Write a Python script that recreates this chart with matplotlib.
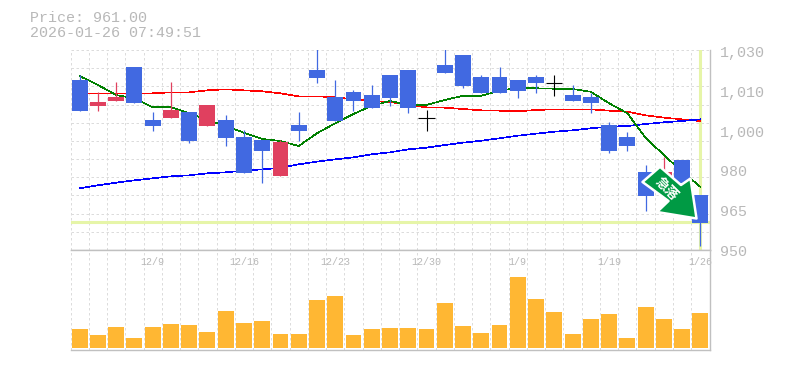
import matplotlib
matplotlib.use("Agg")
import matplotlib.pyplot as plt
from matplotlib.patches import Polygon
from matplotlib.transforms import Affine2D, blended_transform_factory

# ---- data ----
opens = [1018, 1007.6, 1009.6, 1023.2, 1002, 1002.8, 1005.2, 999.6, 1002, 995.2, 994, 979.6,
         1000, 1022, 1011.2, 1013.2, 1012, 1020, 1022, 1003, 1024, 1028, 1019.2, 1019.2,
         1018, 1019.2, 1017, 1012, 1011.2, 1000, 995.2, 981.2, 975.3, 986, 972]
closes = [1005.6, 1009.2, 1011.2, 1008.8, 999.6, 1006, 993.6, 1008, 994.8, 980.8, 989.6, 993.2,
          997.6, 1018.8, 1001.6, 1009.6, 1006.8, 1010.8, 1006.8, 1003, 1020.8, 1015.6, 1012.8, 1012.8,
          1013.6, 1016.8, 1017, 1009.6, 1008.8, 989.6, 991.6, 971.6, 981.3, 976.7, 961]
highs = [1020, 1013.2, 1017.2, 1023.2, 1005.2, 1017.2, 1005.2, 1008, 1004, 998, 994, 994,
         1005.2, 1032, 1018, 1014, 1016, 1020, 1022, 1006, 1032, 1028, 1020, 1023.2,
         1018, 1020, 1020, 1016, 1012.8, 1001.2, 997.2, 984, 987.2, 986, 972]
lows = [1005.6, 1005.6, 1009.6, 1008.8, 997.6, 1002.8, 992.8, 999.6, 991.6, 980.8, 976.8, 979.6,
        993.6, 1016.8, 1001.6, 1005.6, 1006.8, 1007.6, 1004.8, 997.6, 1020.8, 1014.8, 1012.8, 1012.8,
        1010.8, 1012.8, 1011.6, 1009.6, 1004.8, 988.8, 989.6, 965.6, 975.3, 976.7, 951.6]
ma_green = [1019.6, 1016, 1012, 1010.7, 1007.1, 1007.1, 1004.7, 1002, 999.6, 996.9, 994.4, 993.6,
            991.6, 996.7, 1000.7, 1004.4, 1007.7, 1009.6, 1008, 1008, 1010, 1011.7, 1011.7, 1013.7,
            1014.9, 1014.7, 1014.5, 1014.4, 1013.3, 1008.7, 1004.7, 994.9, 988, 981.3, 975.3]
ma_red = [1012.67, 1012.67, 1012.67, 1012.67, 1012.67, 1013.07, 1013.07, 1013.87, 1014.27, 1013.87,
          1013.47, 1012.67, 1011.47, 1011.47, 1011.07, 1010.27, 1009.6, 1009.2, 1008, 1007.07, 1006.93,
          1006.4, 1005.87, 1005.73, 1005.47, 1006, 1006.27, 1006.27, 1006.27, 1005.73, 1005.33,
          1003.87, 1002.93, 1002.27, 1001.6]
ma_blue = [974.67, 975.87, 976.93, 977.87, 978.67, 979.47, 979.87, 980.67, 981.07, 981.73, 982.27,
           982.8, 984.27, 985.33, 986.27, 987.07, 988.27, 989.07, 990.27, 990.93, 992, 992.93, 993.73,
           994.67, 995.73, 996.53, 997.33, 997.87, 998.67, 999.33, 999.6, 1000.4, 1001.07, 1001.6, 1002.27]
volumes = [56, 38, 62, 29, 62, 71, 68, 47, 110, 74, 80, 41, 41, 143, 155, 38, 56, 59, 59, 56, 134,
           65, 44, 68, 212, 146, 107, 41, 86, 101, 29, 122, 86, 56, 104]
date_idx = [4, 9, 14, 19, 24, 29, 34]
date_labels = ["12/9", "12/16", "12/23", "12/30", "1/9", "1/19", "1/26"]
price_ticks = [1030, 1014, 998, 982, 966, 950]
price_labels = ["1,030", "1,010", "1,000", "980", "965", "950"]
last_price = 961

BLUE, RED, ORANGE, HL = "#4169e1", "#e0405f", "#ffb733", "#e6f5a8"
GRID, AXC, TXT = "#dcdcdc", "#c0c0c0", "#b8b8b8"
MONO = "Liberation Mono"
W, H = 785, 370
n = len(closes)
idx = list(range(n))

fig = plt.figure(figsize=(W / 100, H / 100), dpi=100, facecolor="white")
px = Affine2D().scale(1 / W, -1 / H).translate(0, 1) + fig.transFigure
L, R = 70.5, 709.5
ax = fig.add_axes([L / W, (H - 250) / H, (R - L) / W, 200 / H])
av = fig.add_axes([L / W, (H - 350) / H, (R - L) / W, 100 / H])

for a in (ax, av):
    a.set_xlim(-0.5, n - 0.5)
    a.set_xticks([i - 0.5 for i in range(n + 1)])
    a.tick_params(length=0, labelbottom=False, labelleft=False)
    a.set_axisbelow(True)
    a.grid(axis="x", color=GRID, lw=0.72, ls=(0, (2.5, 2.5)))
    for s in a.spines.values():
        s.set_color(AXC)
        s.set_linewidth(1.0)
    a.spines["left"].set_visible(False)

ax.set_ylim(950, 1030)
ax.set_yticks([950 + k * 80 / 11 for k in range(12)])
ax.grid(axis="y", color=GRID, lw=0.72, ls=(0, (2.5, 2.5)))
ax.spines["top"].set_visible(False)
for gl in ax.get_xgridlines() + ax.get_ygridlines() + av.get_xgridlines():
    gl.set_clip_on(False)

# highlight lines at the latest price and date
ax.axhline(last_price + 0.3, color=HL, lw=2.2, zorder=1.5)
ax.axvline(n - 1, color=HL, lw=2.2, zorder=1.5)

# moving averages, under the candles
ax.plot(idx, ma_red, color="#ff0000", lw=0.45, antialiased=False, zorder=2)
ax.plot(idx, ma_blue, color="#0000ff", lw=0.45, antialiased=False, zorder=2)
ax.plot(idx, ma_green, color="#008000", lw=0.45, antialiased=False, zorder=2)

# candles
for i in idx:
    o, c, h, l = opens[i], closes[i], highs[i], lows[i]
    if o == c:
        ax.vlines(i, l, h, color="black", lw=0.8, zorder=3)
        ax.hlines(o, i - 0.44, i + 0.44, color="black", lw=0.8, zorder=3)
        continue
    col = BLUE if c < o else RED
    ax.vlines(i, l, h, color=col, lw=0.9, zorder=3)
    ax.bar(i, abs(c - o), bottom=min(o, c), width=0.87, color=col, linewidth=0, zorder=3)

# volume
av.set_ylim(-6, 294)
av.set_yticks([])
av.bar(idx, volumes, width=0.87, color=ORANGE, linewidth=0, zorder=3)
tr = blended_transform_factory(av.transData, px)
for i, t in zip(date_idx, date_labels):
    av.text(i, 262, t, transform=tr, ha="center", va="center",
            family=MONO, fontsize=7.2, color=TXT, zorder=2, clip_on=False)

# price labels
ytr = blended_transform_factory(px, ax.transData)
for p, t in zip(price_ticks, price_labels):
    fig.text(720, p - 1.0, t, transform=ytr, ha="left", va="center",
             family=MONO, fontsize=10.8, color=TXT)

# header
fig.text(30, 18, "Price: 961.00", transform=px, ha="left", va="center",
         family=MONO, fontsize=10.8, color=TXT)
fig.text(30, 33, "2026-01-26 07:49:51", transform=px, ha="left", va="center",
         family=MONO, fontsize=10.8, color=TXT)

# signal arrow
arrow = Polygon([(642.5, 182), (660, 166.8), (681, 185), (690.5, 178.5), (696.5, 218.5),
                 (657, 212), (668.5, 201)], closed=True, transform=px, facecolor="#009a44",
                edgecolor="white", lw=1.8, joinstyle="round", zorder=5)
fig.add_artist(arrow)
fig.text(666.5, 189, "急落", transform=px, ha="center", va="center", rotation=-45,
         rotation_mode="anchor", family=["Noto Sans CJK JP", "DejaVu Sans"], fontweight="bold",
         fontsize=9.5, color="white", zorder=6)

fig.savefig("out.png", dpi=100, facecolor="white")
